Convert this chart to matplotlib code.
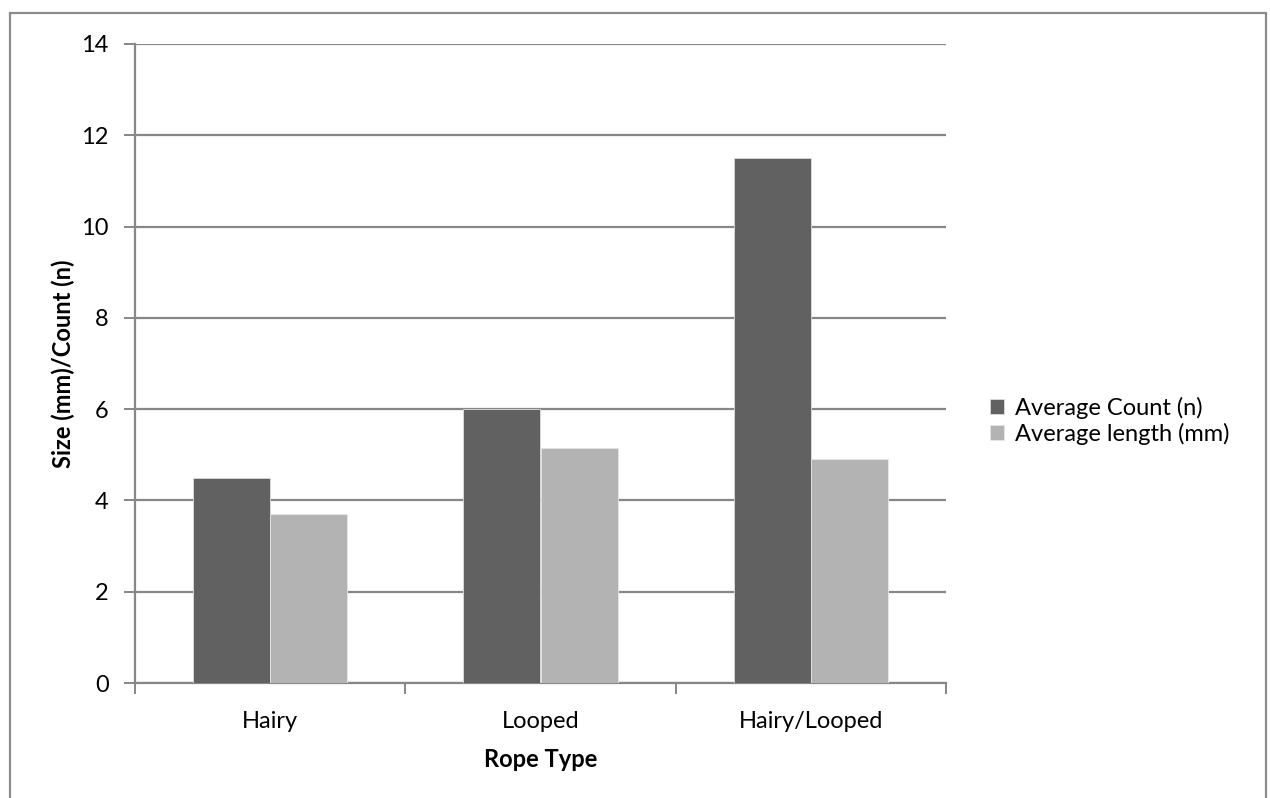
import matplotlib
matplotlib.use("Agg")
import matplotlib.pyplot as plt
import numpy as np
from matplotlib.patches import Rectangle

categories = ["Hairy", "Looped", "Hairy/Looped"]
avg_count = [4.5, 6.0, 11.5]
avg_length = [3.7, 5.15, 4.9]
series_names = ["Average Count (n)", "Average length (mm)"]
y_ticks = [0, 2, 4, 6, 8, 10, 12, 14]

plt.rcParams["font.family"] = ["Lato", "DejaVu Sans"]

W, H = 1270, 798
fig = plt.figure(figsize=(W / 100, H / 100), dpi=100)
fig.patch.set_facecolor("white")

# chart frame
fig.add_artist(Rectangle((10 / W, -0.05), (1266 - 10) / W, (H - 13) / H + 0.05,
                         transform=fig.transFigure, fill=False,
                         edgecolor="#8c8c8c", linewidth=1.6))

ax = fig.add_axes([135 / W, 1 - 683 / H, (946 - 135) / W, (683 - 44) / H])

grid_c = "#878787"
dark_c = "#616161"
light_c = "#b3b3b3"
fs = 17

x = np.arange(len(categories))
bw = 1 / 3.5
ax.bar(x - bw / 2, avg_count, width=bw, color=dark_c, edgecolor="#dddddd",
       linewidth=0.6, zorder=3, label=series_names[0])
ax.bar(x + bw / 2, avg_length, width=bw, color=light_c, edgecolor="#e6e6e6",
       linewidth=0.6, zorder=3, label=series_names[1])

ax.set_xlim(-0.5, len(categories) - 0.5)
ax.set_ylim(0, 14)
ax.set_yticks(y_ticks)
ax.yaxis.grid(True, color=grid_c, linewidth=1.6, zorder=1)
ax.set_axisbelow(True)

ax.set_xticks(x)
ax.set_xticklabels(categories)
ax.set_xticks(np.arange(len(categories) + 1) - 0.5, minor=True)
ax.tick_params(axis="x", which="major", length=0, pad=20, labelsize=fs)
ax.tick_params(axis="x", which="minor", length=8, width=1.4, color=grid_c,
               direction="out")
ax.tick_params(axis="y", length=8, width=1.4, color=grid_c, direction="out",
               pad=11, labelsize=fs)

for s in ["top", "right"]:
    ax.spines[s].set_visible(False)
for s in ["left", "bottom"]:
    ax.spines[s].set_color(grid_c)
    ax.spines[s].set_linewidth(1.6)

ax.set_ylabel("Size (mm)/Count (n)", fontsize=fs, fontweight="bold", labelpad=4)
ax.set_xlabel("Rope Type", fontsize=fs, fontweight="bold", labelpad=12)

leg = ax.legend(loc="center left", bbox_to_anchor=(1.028, 0.41), frameon=False,
                fontsize=fs, handlelength=0.6, handleheight=0.6,
                handletextpad=0.45, labelspacing=0.15)

fig.savefig("out.png", dpi=100, facecolor="white")
